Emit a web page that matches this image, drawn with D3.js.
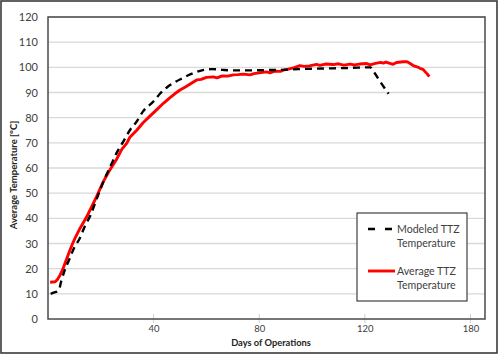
<!DOCTYPE html>
<html><head><meta charset="utf-8">
<script src="https://cdn.jsdelivr.net/npm/d3@7"></script>
<style>body{margin:0;background:#fff}svg{display:block}text{font-family:Lato,"Open Sans",sans-serif}</style>
</head><body>
<svg id="c" width="499" height="355"></svg>
<script>
const yTicks = [0,10,20,30,40,50,60,70,80,90,100,110,120];
const xTickPos = [40,80,120,160];
const xTickLabels = ["40","80","120","180"];
const modeledDays = [1,2.5,4,5,6.4,8,10,12,14,16,18,20,22,24,26,28.5,31,33.6,36,40,42.4,45,48.7,51,54,56.3,59,62,66,70,76,82,89,95,102,108,115,122,123.5,126,129];
const modeledTemp = [10,10.6,11.2,15,19.5,23.5,28.5,32,37,41,46.5,52,57,61.5,66,70.5,75,78.5,82.5,86.5,89.5,92,94.5,95.7,97.3,98.2,99,99.3,99,98.8,98.8,98.9,99,99.3,99.5,99.6,99.8,100,98,94,89.5];
const avgDays = [0.8,2.7,3.5,4.5,5.5,6.4,7.3,8.3,9.2,10.2,12.1,14.6,16.5,18.4,20.9,23,26,28,29.8,31,33.6,36,38.6,41,43.7,46,48,50,52,54,56.3,58,60,62.6,64,66,68,70.2,72,74,76.5,78,80,82.8,84,86,88,89.1,91,93,95.4,97,99,101.7,103,105,108,110,112,114.4,116,118,120.7,122,124,126,127,128,130.7,132,134.5,136,137,138.3,140,140.9,142,142.7,143.6,144.4];
const avgTemp = [14.6,14.8,15.6,17.3,19.5,22,24.5,27.3,29.7,32,36,40.5,44.5,48.6,54.5,58.5,63.5,67.5,69.8,72.2,75,78,80.6,83,85.7,87.8,89.5,91,92.2,93.5,95,95.2,96,96.2,95.8,96.6,96.5,97,97.1,97.3,97,97.5,97.8,98.2,97.8,98.5,98.4,98.9,99.3,99.8,100.7,100.4,100.6,101.2,100.8,101.3,101.1,101.4,100.9,101.3,101,101.3,101.5,101,101.6,102,101.7,102.1,101.2,101.9,102.2,102.2,101.6,100.7,100.1,99.6,99.2,98.4,97.4,96.3];
const seriesNames = ["Modeled TTZ|Temperature","Average TTZ|Temperature"];

const svg = d3.select("#c");
const L=48, R=485, T=17, B=319;
const x = d3.scaleLinear().domain([0,165.5]).range([L,R]);
const y = d3.scaleLinear().domain([0,120]).range([B,T]);

svg.append("rect").attr("x",1).attr("y",1).attr("width",496).attr("height",352)
  .attr("fill","#fff").attr("stroke","#3a3a3a").attr("stroke-width",1.6);

svg.append("g").selectAll("line").data(yTicks.filter(d=>d>0)).join("line")
  .attr("x1",L).attr("x2",R).attr("y1",d=>y(d)).attr("y2",d=>y(d))
  .attr("stroke","#d9d9d9").attr("stroke-width",1.3);

svg.append("g").selectAll("line").data(xTickPos).join("line")
  .attr("x1",d=>x(d)).attr("x2",d=>x(d)).attr("y1",314).attr("y2",323)
  .attr("stroke","#d0d0d0").attr("stroke-width",1);

svg.append("rect").attr("x",L).attr("y",T).attr("width",R-L).attr("height",B-T)
  .attr("fill","none").attr("stroke","#4a4a4a").attr("stroke-width",1.5);

const yAxis = d3.axisLeft(y).tickValues(yTicks).tickSize(0).tickPadding(10);
const gy = svg.append("g").attr("transform",`translate(${L},0)`).call(yAxis);
gy.select(".domain").remove();
gy.selectAll("text").attr("font-size",11).attr("fill","#404040").style("font-family","Lato,sans-serif");

const xAxis = d3.axisBottom(x).tickValues(xTickPos).tickFormat((d,i)=>xTickLabels[i]).tickSize(0).tickPadding(6);
const gx = svg.append("g").attr("transform",`translate(0,${B})`).call(xAxis);
gx.select(".domain").remove();
gx.selectAll("text").attr("font-size",9.5).attr("fill","#404040").style("font-family","Lato,sans-serif");

svg.append("text").attr("x",271).attr("y",346).attr("text-anchor","middle")
  .attr("font-size",9.3).attr("font-weight","bold").attr("fill","#222").text("Days of Operations");
svg.append("text").attr("transform","translate(17,175) rotate(-90)").attr("text-anchor","middle")
  .attr("font-size",9.5).attr("font-weight","bold").attr("fill","#222").text("Average Temperature [°C]");

const line = d3.line().x(d=>x(d[0])).y(d=>y(d[1]));
const modeled = modeledDays.map((d,i)=>[d,modeledTemp[i]]);
const avg = avgDays.map((d,i)=>[d,avgTemp[i]]);

svg.append("path").datum(avg).attr("d",line).attr("fill","none")
  .attr("stroke","#ff0000").attr("stroke-width",2.9).attr("stroke-linejoin","round");
svg.append("path").datum(modeled).attr("d",line.curve(d3.curveMonotoneX)).attr("fill","none")
  .attr("stroke","#000").attr("stroke-width",2.4).attr("stroke-dasharray","7,5");

const lg = svg.append("g");
lg.append("rect").attr("x",357).attr("y",213).attr("width",110).attr("height",88)
  .attr("fill","#fff").attr("stroke","#404040").attr("stroke-width",1.2);
lg.append("line").attr("x1",368).attr("x2",394).attr("y1",229).attr("y2",229)
  .attr("stroke","#000").attr("stroke-width",2.4).attr("stroke-dasharray","7,10");
lg.append("line").attr("x1",368).attr("x2",395).attr("y1",271).attr("y2",271)
  .attr("stroke","#ff0000").attr("stroke-width",2.9);
const ly = [229,271];
seriesNames.forEach((n,i)=>{
  n.split("|").forEach((p,j)=>{
    lg.append("text").attr("x",397).attr("y",ly[i]+4+j*13.5).attr("font-size",10.6)
      .attr("fill","#404040").text(p);
  });
});
</script>
</body></html>
